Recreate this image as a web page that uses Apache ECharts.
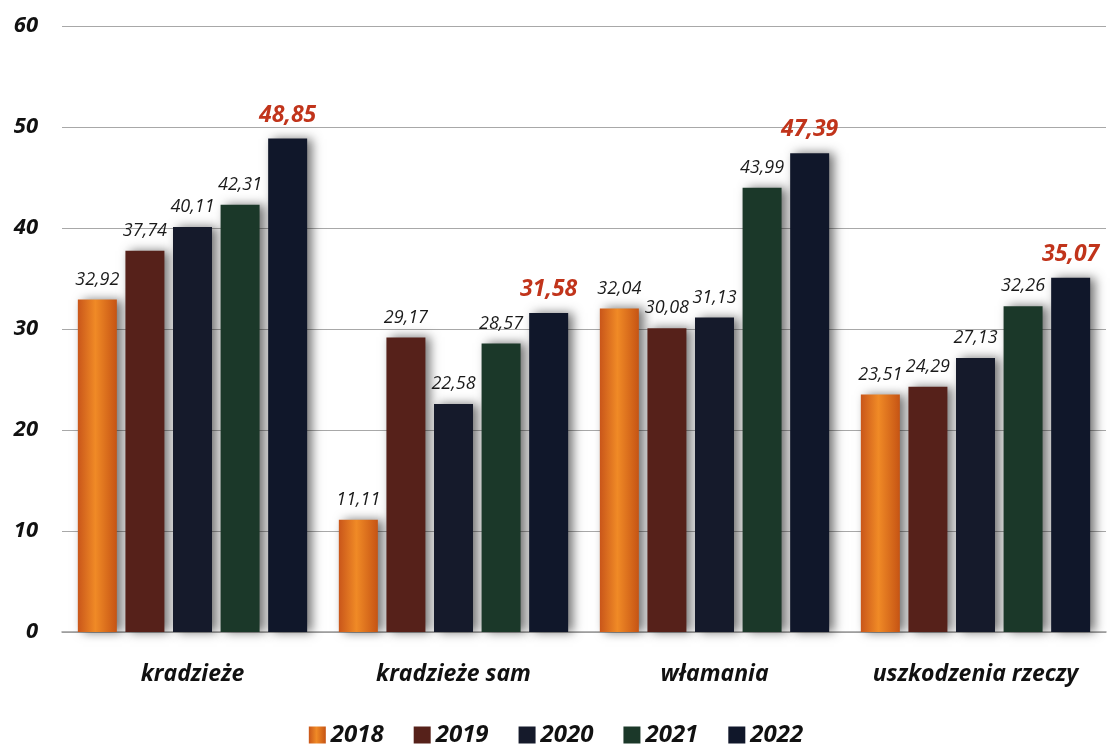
<!DOCTYPE html>
<html>
<head>
<meta charset="utf-8">
<script src="https://cdn.jsdelivr.net/npm/echarts@6/dist/echarts.min.js"></script>
<style>
  html, body { margin: 0; padding: 0; background: #fff; }
  #chart { width: 1112px; height: 749px; }
</style>
</head>
<body>
<div id="chart"></div>
<script>
const categories = ["kradzieże", "kradzieże sam", "włamania", "uszkodzenia rzeczy"];
const years = ["2018", "2019", "2020", "2021", "2022"];
const v2018 = [32.92, 11.11, 32.04, 23.51];
const v2019 = [37.74, 29.17, 30.08, 24.29];
const v2020 = [40.11, 22.58, 31.13, 27.13];
const v2021 = [42.31, 28.57, 43.99, 32.26];
const v2022 = [48.85, 31.58, 47.39, 35.07];
const yTicks = [0, 10, 20, 30, 40, 50, 60];

const colors = ["#e6701c", "#56211a", "#151a2b", "#1b3829", "#10172a"];
const values = [v2018, v2019, v2020, v2021, v2022];
const FONT = "'Open Sans', Lato, sans-serif";

const fmt = (p) => p.value.toFixed(2).replace(".", ",");

const chart = echarts.init(document.getElementById("chart"));

const series = years.map((y, i) => {
  const last = i === years.length - 1;
  const color = i === 0
    ? new echarts.graphic.LinearGradient(0, 0, 1, 0, [
        { offset: 0, color: "#c9561a" },
        { offset: 0.45, color: "#f08a26" },
        { offset: 1, color: "#c65414" },
      ])
    : colors[i];
  return {
    name: y,
    type: "bar",
    data: values[i],
    barWidth: 39,
    barGap: "22%",
    itemStyle: {
      color: color,
      shadowColor: "rgba(0,0,0,0.55)",
      shadowBlur: 10,
      shadowOffsetX: 5,
      shadowOffsetY: 0,
    },
    label: {
      show: true,
      position: "top",
      distance: last ? 12 : 11,
      formatter: fmt,
      fontFamily: FONT,
      fontStyle: "italic",
      fontWeight: last ? "bold" : "normal",
      fontSize: last ? 23 : 18,
      color: last ? "#c1341b" : "#1a1a1a",
    },
  };
});

chart.setOption({
  animation: false,
  color: colors,
  grid: { left: 62, right: 6, top: 26, bottom: 117 },
  legend: {
    data: years,
    top: 718,
    left: "center",
    itemWidth: 17,
    itemHeight: 17,
    itemGap: 30,
    icon: "rect",
    textStyle: {
      fontFamily: FONT,
      fontStyle: "italic",
      fontWeight: "bold",
      fontSize: 24,
      color: "#111",
    },
  },
  xAxis: {
    type: "category",
    data: categories,
    axisLine: { show: true, lineStyle: { color: "#9a9a9a", width: 1.5 } },
    axisTick: { show: false },
    axisLabel: {
      interval: 0,
      hideOverlap: false,
      margin: 31,
      fontFamily: FONT,
      fontStyle: "italic",
      fontWeight: "bold",
      fontSize: 23,
      color: "#111",
    },
  },
  yAxis: {
    type: "value",
    min: yTicks[0],
    max: yTicks[yTicks.length - 1],
    interval: 10,
    axisLine: { show: false },
    axisTick: { show: false },
    splitLine: { lineStyle: { color: "#a8a8a8", width: 1 } },
    axisLabel: {
      margin: 24,
      fontFamily: FONT,
      fontStyle: "italic",
      fontWeight: "bold",
      fontSize: 22,
      color: "#111",
    },
  },
  series: series,
});
</script>
</body>
</html>
